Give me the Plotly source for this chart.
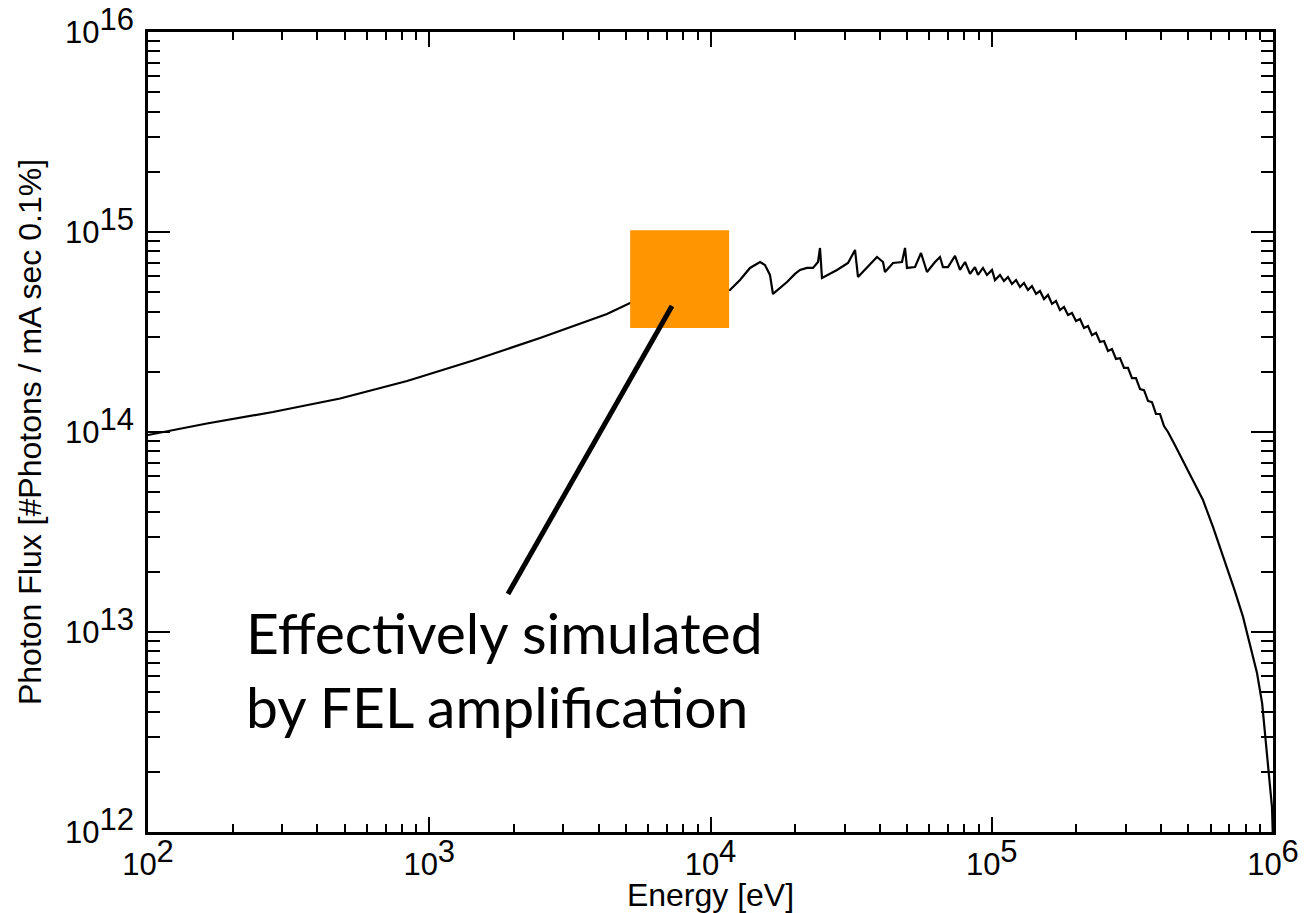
import plotly.graph_objects as go

# Spectrum (energy in eV, flux in photons / mA sec 0.1%)
energy_ev = [
    100, 162, 278, 482, 834, 1432, 2477, 4285, 5175, 7795,
    11730, 12730, 13820, 15000, 15620, 16270, 16680, 17670, 18710, 19970, 20810, 22030,
    23150, 24110, 24510, 24910,
    28170, 30830, 32650, 33450, 36910, 39080, 41060, 41730, 44550, 47960,
    49160, 49960, 53350, 56030, 58860, 62850, 65460, 67090, 69890, 74030,
    77130, 80370, 83700, 87170, 89360, 93080, 96180, 100200, 102700,
    1.070e5, 1.105e5, 1.142e5, 1.180e5, 1.220e5, 1.260e5, 1.302e5, 1.345e5,
    1.390e5, 1.437e5, 1.484e5, 1.534e5, 1.585e5, 1.638e5, 1.692e5, 1.748e5,
    1.807e5, 1.867e5, 1.929e5, 1.993e5, 2.060e5, 2.128e5, 2.199e5, 2.272e5,
    2.348e5, 2.426e5, 2.507e5, 2.590e5, 2.676e5, 2.765e5, 2.858e5, 2.953e5,
    3.051e5, 3.152e5, 3.257e5, 3.366e5, 3.478e5, 3.594e5, 3.713e5, 3.837e5,
    3.965e5, 4.097e5, 4.233e5,
    4.45e5, 4.67e5, 4.92e5, 5.195e5, 5.637e5, 6.118e5, 6.862e5, 7.30e5, 7.824e5,
    8.30e5, 8.773e5, 9.15e5, 9.367e5, 9.678e5, 9.83e5, 9.918e5, 1.0e6,
]
flux = [
    9.66e13, 1.103e14, 1.259e14, 1.471e14, 1.799e14, 2.278e14, 2.951e14, 3.89e14, 4.416e14, 4.84e14,
    5.13e14, 5.75e14, 6.61e14, 7.08e14, 6.84e14, 6.10e14, 4.90e14, 5.25e14, 5.62e14, 6.17e14, 6.46e14, 6.61e14,
    6.61e14, 7.08e14, 8.32e14, 5.89e14,
    6.46e14, 7.00e14, 8.13e14, 5.96e14, 6.92e14, 7.50e14, 7.08e14, 6.31e14, 7.00e14, 7.08e14,
    8.32e14, 6.61e14, 6.68e14, 7.85e14, 6.31e14, 7.08e14, 7.50e14, 6.68e14, 6.68e14, 7.59e14,
    6.46e14, 7.08e14, 6.17e14, 6.68e14, 6.10e14, 6.61e14, 6.10e14, 6.46e14, 5.75e14,
    6.10e14, 5.69e14, 5.96e14, 5.50e14, 5.75e14, 5.31e14, 5.56e14, 5.13e14,
    5.37e14, 4.90e14, 5.07e14, 4.62e14, 4.84e14, 4.37e14, 4.52e14, 4.07e14,
    4.22e14, 3.85e14, 3.94e14, 3.59e14, 3.67e14, 3.31e14, 3.39e14, 3.05e14,
    3.13e14, 2.82e14, 2.85e14, 2.54e14, 2.60e14, 2.32e14, 2.34e14, 2.09e14,
    2.09e14, 1.86e14, 1.86e14, 1.64e14, 1.62e14, 1.43e14, 1.41e14, 1.23e14,
    1.23e14, 1.07e14, 1.00e14,
    8.75e13, 7.67e13, 6.70e13, 5.75e13, 4.57e13, 3.35e13, 2.11e13, 1.62e13, 1.19e13,
    8.60e12, 6.24e12, 4.40e12, 3.13e12, 1.97e12, 1.60e12, 1.33e12, 9.0e11,
]

x_tick_vals = [1e2, 1e3, 1e4, 1e5, 1e6]
x_tick_exps = ["2", "3", "4", "5", "6"]
y_tick_vals = [1e12, 1e13, 1e14, 1e15, 1e16]
y_tick_exps = ["12", "13", "14", "15", "16"]

# highlighted region (FEL amplification) and pointer line
box_energy = [5180, 11650]
box_flux = [3.31e14, 1.02e15]
pointer_energy = [7295, 1905]
pointer_flux = [4.27e14, 1.55e13]

FONT = "Liberation Sans, Arial, Helvetica, sans-serif"
TS = 31

def label(exp):
    return f"10<sup><span style='font-size:{TS}px'>{exp}</span></sup>"

fig = go.Figure()
fig.add_trace(go.Scatter(x=energy_ev, y=flux, mode="lines",
                         line=dict(color="black", width=2.2), showlegend=False,
                         hoverinfo="skip"))

fig.add_shape(type="rect", xref="x", yref="y",
              x0=box_energy[0], x1=box_energy[1], y0=box_flux[0], y1=box_flux[1],
              fillcolor="#FF9500", line=dict(width=0), layer="above")
fig.add_shape(type="line", xref="x", yref="y",
              x0=pointer_energy[0], x1=pointer_energy[1],
              y0=pointer_flux[0], y1=pointer_flux[1],
              line=dict(color="black", width=5), layer="above")

fig.add_annotation(xref="paper", yref="paper", x=0.085, y=0.295,
                   xanchor="left", yanchor="top", align="left", showarrow=False,
                   text="Effectively simulated<br>by FEL amplification",
                   font=dict(family="Lato, Open Sans, sans-serif", size=57, color="black"))

axis_common = dict(
    type="log", showline=True, linecolor="black", linewidth=2.5, mirror="ticks",
    ticks="inside", tickcolor="black", tickwidth=2, showgrid=False, zeroline=False,
    tickfont=dict(family=FONT, size=TS, color="black"),
    title_font=dict(family=FONT, size=32, color="black"),
)

fig.update_xaxes(
    **axis_common, range=[2, 6], tickmode="array",
    tickvals=x_tick_vals, ticktext=[label(e) for e in x_tick_exps], ticklen=15,
    ticklabelstandoff=3,
    minor=dict(ticks="inside", ticklen=8, tickwidth=2, tickcolor="black", dtick="D1", showgrid=False),
    title=dict(text="Energy [eV]", standoff=6),
)
fig.update_yaxes(
    **axis_common, range=[12, 16], tickmode="array",
    tickvals=y_tick_vals, ticktext=[label(e) for e in y_tick_exps], ticklen=22,
    ticklabelstandoff=5,
    minor=dict(ticks="inside", ticklen=12, tickwidth=2, tickcolor="black", dtick="D1", showgrid=False),
    title=dict(text="Photon Flux [#Photons / mA sec 0.1%]", standoff=14),
)

fig.update_layout(
    width=1305, height=913, autosize=False,
    margin=dict(l=148, r=32, t=32, b=81, autoexpand=False),
    plot_bgcolor="white", paper_bgcolor="white",
    font=dict(family=FONT, color="black"),
)

fig.write_html("out.html")
